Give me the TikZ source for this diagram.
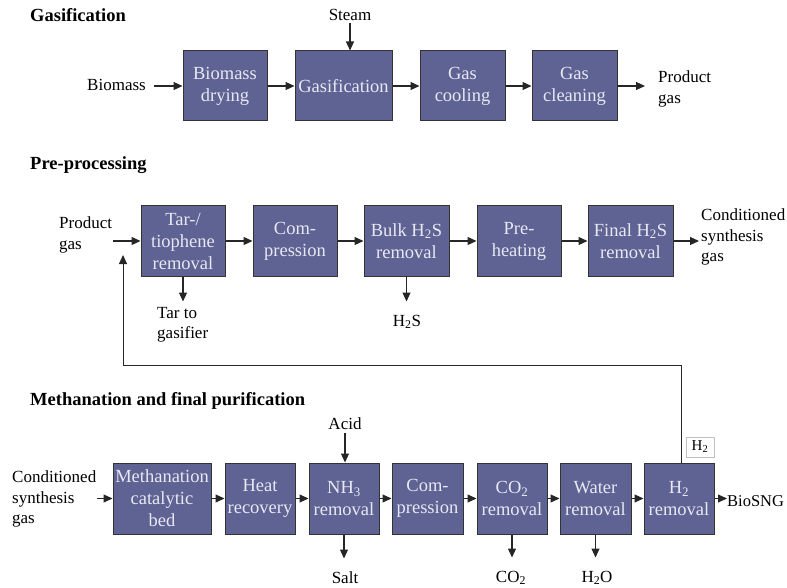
\documentclass[tikz,border=0pt]{standalone}
\usepackage{fontspec}
\setmainfont{Liberation Serif}
\usetikzlibrary{arrows.meta}
\definecolor{boxblue}{RGB}{94,99,148}
\definecolor{boxtext}{RGB}{232,232,242}
\begin{document}
\begin{tikzpicture}[x=1pt,y=-1pt,
  pbox/.style={draw=black!80, line width=1pt, fill=boxblue, text=boxtext, align=center, inner sep=0pt,
     font=\fontsize{18.5}{22}\selectfont},
  lbl/.style={inner sep=0pt, align=left, font=\fontsize{17}{20.5}\selectfont},
  hdr/.style={inner sep=0pt, anchor=west, font=\fontsize{18.5}{22}\selectfont\bfseries},
  arr/.style={line width=1.1pt, draw=black!85, -{Triangle[length=9pt,width=8pt]}}]
\clip (0,0) rectangle (787,588);
\useasboundingbox (0,0) rectangle (787,588);
% headers
\node[hdr] (h1) at (30,15) {Gasification};
\node[hdr] (h2h) at (30,165) {Pre-processing};
\node[hdr] (h3) at (30,401) {Methanation and final purification};
% row 1
\node[pbox, minimum width=84pt, minimum height=70pt] (bd) at (225,86) {Biomass\\drying};
\node[pbox, minimum width=97pt, minimum height=70pt] (gs) at (343.5,86) {Gasification};
\node[pbox, minimum width=85pt, minimum height=70pt] (gc) at (462.5,86) {Gas\\cooling};
\node[pbox, minimum width=85pt, minimum height=70pt] (gcl) at (574.5,86) {Gas\\cleaning};
\node[lbl, anchor=east] (bio) at (146,85) {Biomass};
\coordinate (bioin) at (154,86);
\node[lbl] (steam) at (350,15) {Steam};
\node[lbl, anchor=west] (pg1) at (658,89) {Product\\gas};
\coordinate (pgout) at (645,86);
\draw[arr] (bioin) -- (bd.west);
\draw[arr] (bd) -- (gs);
\draw[arr] (gs) -- (gc);
\draw[arr] (gc) -- (gcl);
\draw[arr] (gcl.east) -- (pgout);
\draw[arr] (steam.south) ++(0,2) -- (steam.south |- gs.north);
% row 2
\node[pbox, minimum width=84pt, minimum height=70pt] (tar) at (183,241) {Tar-/\\tiophene\\removal};
\node[pbox, minimum width=84pt, minimum height=70pt] (comp) at (295,241) {Com-\\pression};
\node[pbox, minimum width=85pt, minimum height=70pt] (bulk) at (406.5,241) {Bulk H\textsubscript{2}S\\removal};
\node[pbox, minimum width=84pt, minimum height=70pt] (pre) at (519,241) {Pre-\\heating};
\node[pbox, minimum width=85pt, minimum height=70pt] (fin) at (630.5,241) {Final H\textsubscript{2}S\\removal};
\node[lbl, anchor=west] (pg2) at (59,235) {Product\\gas};
\coordinate (pgin) at (113,241);
\node[lbl, anchor=west] (tgas) at (157,325) {Tar to\\gasifier};
\node[lbl] (h2s) at (407,322) {H\textsubscript{2}S};
\node[lbl, anchor=west] (csg1) at (701,237) {Conditioned\\synthesis\\gas};
\coordinate (csgout) at (699,241);
\draw[arr] (pgin) -- (tar.west);
\draw[arr] (tar) -- (comp);
\draw[arr] (comp) -- (bulk);
\draw[arr] (bulk) -- (pre);
\draw[arr] (pre) -- (fin);
\draw[arr] (fin.east) -- (csgout);
\draw[arr] (tar.south) -- ++(0,25);
\draw[arr] (bulk.south) -- ++(0,25);
% row 3
\node[pbox, minimum width=98pt, minimum height=71pt] (meth) at (162,498.5) {Methanation\\catalytic\\bed};
\node[pbox, minimum width=70pt, minimum height=71pt] (heat) at (260,498.5) {Heat\\recovery};
\node[pbox, minimum width=70pt, minimum height=71pt] (nh3) at (344,498.5) {NH\textsubscript{3}\\removal};
\node[pbox, minimum width=71pt, minimum height=71pt] (comp2) at (427.5,498.5) {Com-\\pression};
\node[pbox, minimum width=70pt, minimum height=71pt] (co2) at (512,498.5) {CO\textsubscript{2}\\removal};
\node[pbox, minimum width=71pt, minimum height=71pt] (water) at (595.5,498.5) {Water\\removal};
\node[pbox, minimum width=70pt, minimum height=71pt] (h2r) at (679,498.5) {H\textsubscript{2}\\removal};
\node[lbl, anchor=west] (csg2) at (12,499) {Conditioned\\synthesis\\gas};
\coordinate (csgin) at (97,498.5);
\node[lbl] (acid) at (345,424) {Acid};
\node[lbl] (salt) at (345,578) {Salt};
\node[lbl] (co2o) at (511,578) {CO\textsubscript{2}};
\node[lbl] (h2o) at (597,578) {H\textsubscript{2}O};
\node[lbl, anchor=west, font=\fontsize{16.5}{20}\selectfont] (snq) at (727,501) {BioSNG};
\node[draw=black!25, line width=0.8pt, inner sep=0pt, minimum width=28pt, minimum height=20pt,
      font=\fontsize{15}{18}\selectfont] (h2lab) at (700,447) {H\textsubscript{2}};
\draw[arr] (csgin) -- (meth.west);
\draw[arr] (meth) -- (heat);
\draw[arr] (heat) -- (nh3);
\draw[arr] (nh3) -- (comp2);
\draw[arr] (comp2) -- (co2);
\draw[arr] (co2) -- (water);
\draw[arr] (water) -- (h2r);
\draw[arr] (h2r.east) -- (snq.west |- h2r.east);
\draw[arr] (acid.south) ++(0,3) -- (acid.south |- nh3.north);
\draw[arr] (nh3.south) -- ++(0,24);
\draw[arr] (co2.south) -- ++(0,23);
\draw[arr] (water.south) -- ++(0,23);
% feedback H2
\coordinate (fbc) at (123,365);
\coordinate (fb) at (123,255);
\draw[line width=0.9pt, draw=black!85, -{Triangle[length=9pt,width=8pt]}] ([xshift=2pt]h2r.north) |- (fbc) -- (fb);
\end{tikzpicture}
\end{document}
